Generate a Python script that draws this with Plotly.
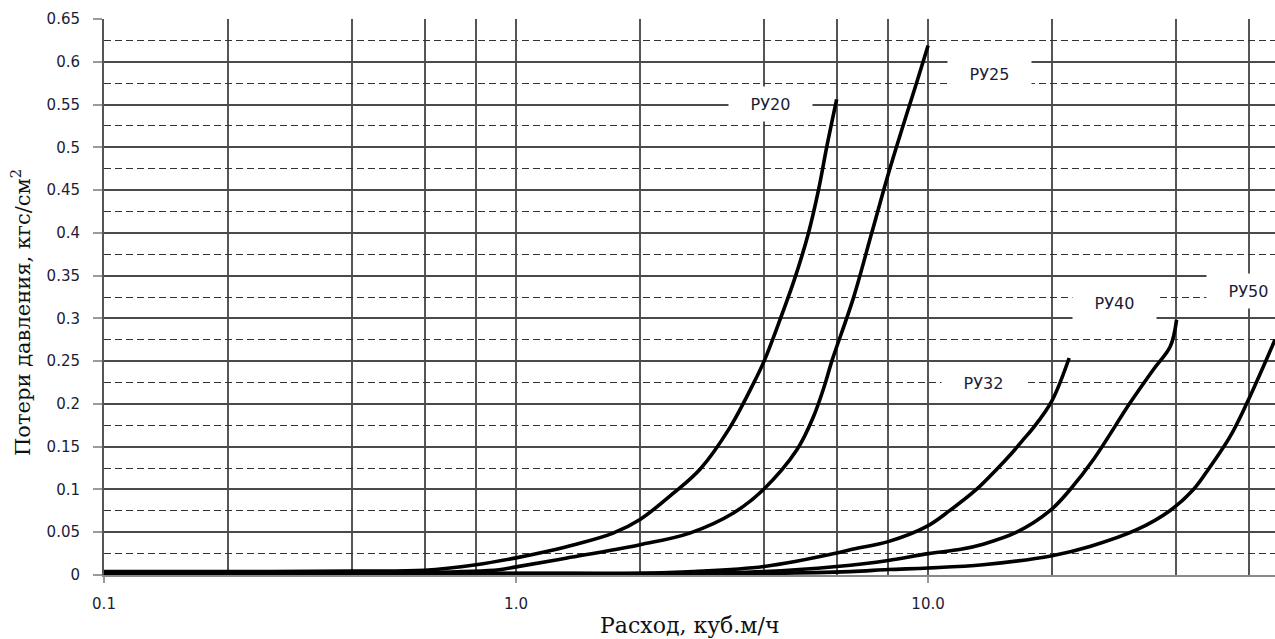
import math
import plotly.graph_objects as go

# ---- data ----
ru20_x = [0.1, 0.2, 0.4, 0.6, 0.8, 1.0, 1.2, 1.4, 1.72, 2.0, 2.4, 2.8, 3.3, 3.77, 4.0, 4.33, 4.75, 5.12, 5.42, 5.68, 6.0]
ru20_y = [0.004, 0.004, 0.0045, 0.0055, 0.012, 0.02, 0.028, 0.036, 0.049, 0.065, 0.095, 0.124, 0.172, 0.224, 0.250, 0.293, 0.347, 0.399, 0.450, 0.501, 0.556]

ru25_x = [0.1, 0.3, 0.6, 0.91, 1.0, 1.33, 2.0, 2.64, 3.37, 3.98, 4.8, 5.27, 5.62, 5.84, 6.59, 7.3, 8.09, 9.47, 10.0]
ru25_y = [0.003, 0.003, 0.003, 0.0062, 0.0095, 0.0199, 0.0354, 0.049, 0.0725, 0.0997, 0.146, 0.185, 0.223, 0.250, 0.324, 0.400, 0.476, 0.582, 0.619]

ru32_x = [0.1, 1.0, 2.0, 2.7, 4.0, 6.0, 6.47, 8.0, 9.93, 11.3, 13.1, 14.7, 16.0, 17.0, 18.0, 19.95, 22.0]
ru32_y = [0.002, 0.002, 0.002, 0.004, 0.010, 0.0257, 0.0296, 0.039, 0.0568, 0.0755, 0.100, 0.124, 0.143, 0.158, 0.172, 0.203, 0.2537]

ru40_x = [0.1, 2.0, 4.0, 6.0, 8.0, 10.0, 12.0, 13.6, 16.4, 19.8, 22.1, 25.2, 30.9, 35.2, 38.7, 40.1]
ru40_y = [0.0015, 0.0015, 0.004, 0.010, 0.017, 0.025, 0.030, 0.036, 0.050, 0.0755, 0.0997, 0.135, 0.201, 0.240, 0.267, 0.2985]

ru50_x = [0.1, 4.0, 6.47, 8.0, 10.0, 13.6, 20.0, 24.7, 32.1, 38.7, 44.0, 47.5, 54.1, 59.4, 69.5]
ru50_y = [0.001, 0.002, 0.004, 0.0064, 0.0082, 0.012, 0.0226, 0.0334, 0.053, 0.0755, 0.0997, 0.121, 0.162, 0.201, 0.275]

series_names = ["РУ20", "РУ25", "РУ32", "РУ40", "РУ50"]

label_text = ["РУ20", "РУ25", "РУ32", "РУ40", "РУ50"]
label_x = [4.14, 14.1, 13.6, 28.3, 59.8]
label_y = [0.551, 0.586, 0.2248, 0.318, 0.332]

x_tick_vals = [0.1, 1, 10]
x_tick_text = ["0.1", "1.0", "10.0"]
x_minor_vals = [0.2, 0.4, 0.6, 0.8, 2, 4, 6, 8, 20, 40, 60]

y_tick_vals = [0, 0.05, 0.1, 0.15, 0.2, 0.25, 0.3, 0.35, 0.4, 0.45, 0.5, 0.55, 0.6, 0.65]
y_tick_text = ["0", "0.05", "0.1", "0.15", "0.2", "0.25", "0.3", "0.35", "0.4", "0.45", "0.5", "0.55", "0.6", "0.65"]
y_minor_vals = [0.025, 0.075, 0.125, 0.175, 0.225, 0.275, 0.325, 0.375, 0.425, 0.475, 0.525, 0.575, 0.625]

x_title = "Расход, куб.м/ч"
y_title = "Потери давления, кгс/см<sup>2</sup>"

# ---- figure ----
fig = go.Figure()
for name, xs, ys in zip(series_names,
                        [ru20_x, ru25_x, ru32_x, ru40_x, ru50_x],
                        [ru20_y, ru25_y, ru32_y, ru40_y, ru50_y]):
    fig.add_trace(go.Scatter(x=xs, y=ys, mode="lines", name=name,
                             line=dict(color="black", width=3.6, shape="spline", smoothing=1.0)))

tick_font = dict(family="DejaVu Sans", size=15, color="#1c1c38")
serif_font = dict(family="DejaVu Serif", size=22, color="#111111")

fig.update_layout(
    width=1275, height=639,
    margin=dict(l=104, r=0, t=19, b=64),
    paper_bgcolor="white", plot_bgcolor="white",
    showlegend=False,
    xaxis=dict(
        type="log", range=[-1, 1.842],
        tickmode="array", tickvals=x_tick_vals, ticktext=x_tick_text,
        ticks="outside", ticklen=6, tickwidth=1.5, tickcolor="#9a9a9a",
        tickfont=tick_font, ticklabelstandoff=8,
        showgrid=True, gridcolor="#555555", gridwidth=1.5,
        showline=True, linecolor="#8a8a8a", linewidth=2,
        zeroline=False,
        minor=dict(tickmode="array", tickvals=x_minor_vals, ticks="",
                   showgrid=True, gridcolor="#555555", gridwidth=1.5),
    ),
    yaxis=dict(
        range=[0, 0.65],
        tickmode="array", tickvals=y_tick_vals, ticktext=y_tick_text,
        ticks="outside", ticklen=9, tickwidth=1.5, tickcolor="#9a9a9a",
        tickfont=tick_font, ticklabelstandoff=10,
        showgrid=True, gridcolor="#4a4a4a", gridwidth=1.5,
        showline=True, linecolor="#555555", linewidth=2,
        zeroline=False,
        minor=dict(tickmode="array", tickvals=y_minor_vals, ticks="",
                   showgrid=True, gridcolor="#333333", gridwidth=1.2,
                   griddash="7px,4px"),
    ),
)

annotations = []
for t, lx, ly in zip(label_text, label_x, label_y):
    annotations.append(dict(
        x=math.log10(lx), y=ly, xref="x", yref="y", text=t, showarrow=False,
        xanchor="center", yanchor="middle", width=83, height=34,
        bgcolor="white", borderpad=0,
        font=dict(family="DejaVu Sans", size=16, color="#1c1c38"),
    ))

annotations.append(dict(
    text=x_title, xref="paper", yref="paper", x=0.5, y=-0.0917,
    xanchor="center", yanchor="middle", showarrow=False, font=serif_font))
annotations.append(dict(
    text=y_title, xref="paper", yref="paper", x=-0.0709, y=0.473,
    xanchor="center", yanchor="middle", showarrow=False, textangle=-90,
    font=dict(family="DejaVu Serif", size=21, color="#111111")))

fig.update_layout(annotations=annotations)

fig.write_html("out.html", config={"displayModeBar": False},
               post_script="document.body.style.margin='0';")
